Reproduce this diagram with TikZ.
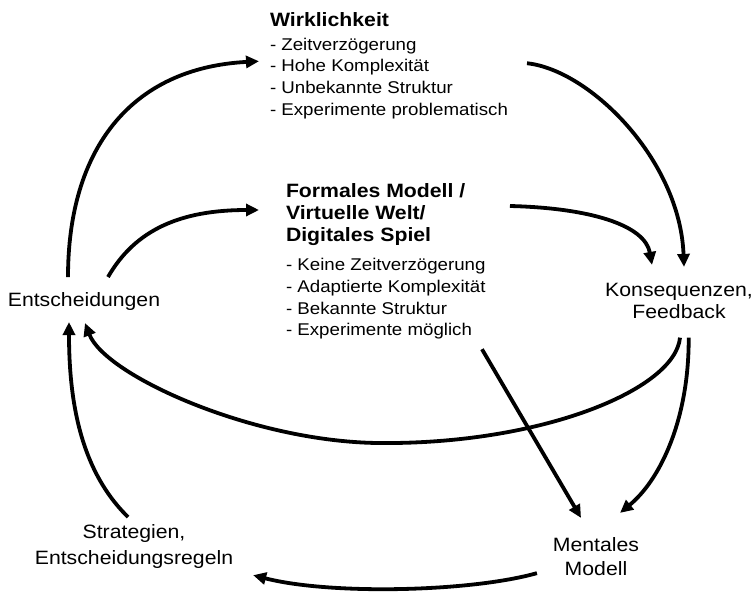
\documentclass[tikz,border=0pt]{standalone}
\usepackage{fontspec}
\setmainfont[FakeStretch=1.1]{Liberation Sans}
\usetikzlibrary{arrows.meta}
\newcommand\blkhead[1]{{\bfseries\fontsize{19.3}{21.7}\selectfont #1}}
\begin{document}
\begin{tikzpicture}[x=1pt,y=-1pt,
  lbl/.style={inner sep=0pt, outer sep=0pt, align=center,
    font=\fontsize{19.3}{22.3}\selectfont},
  blk/.style={inner sep=0pt, outer sep=0pt, align=left,
    font=\fontsize{17}{21.7}\selectfont},
  flow/.style={line width=3.8pt, -{Triangle[length=13pt,width=12pt]}}]
\useasboundingbox (0,0) rectangle (754,591);

% labels of the loop
\node[lbl, anchor=base] (ent) at (84,306) {Entscheidungen};
\node[lbl, anchor=north] (kons) at (679,282.9) {Konsequenzen,\\Feedback};
\node[lbl, anchor=north, font=\fontsize{19.3}{23.3}\selectfont] (ment) at (596,537.9) {Mentales\\Modell};
\node[lbl, anchor=north, font=\fontsize{19.3}{26}\selectfont] (strat) at (134,524.5) {Strategien,\\Entscheidungsregeln};

% the two worlds
\node[blk, anchor=north west] (wirk) at (270,12.9) {\blkhead{Wirklichkeit}\\[1.6pt]
  - Zeitverzögerung\\
  - Hohe Komplexität\\
  - Unbekannte Struktur\\
  - Experimente problematisch};
\node[blk, anchor=north west] (form) at (286,183.5) {\blkhead{Formales Modell /}\\[0.5pt]
  \blkhead{Virtuelle Welt/}\\[0.5pt]
  \blkhead{Digitales Spiel}\\[7.3pt]
  - Keine Zeitverzögerung\\
  - Adaptierte Komplexität\\
  - Bekannte Struktur\\
  - Experimente möglich};

% connectors
\draw[flow] ([shift={(-16,-15)}]ent.north) .. controls (68,150) and (130,68) .. ([shift={(-11,-4.6)}]wirk.west);
\draw[flow] ([shift={(24,-15)}]ent.north) .. controls (135,230) and (180,210) .. ([shift={(-27,26.5)}]form.north west);
\draw[flow] ([shift={(19,-2.6)}]wirk.east) .. controls (590,70) and (680,160) .. ([shift={(5,-16)}]kons.north);
\draw[flow] ([shift={(24.4,22.5)}]form.north east) .. controls (590,208) and (645,225) .. ([shift={(-27,-18)}]kons.north);
\draw[flow] ([shift={(1,19)}]kons.south) .. controls (675,390) and (540,445) .. (377,443)
  .. controls (250,441) and (105,375) .. ([shift={(1,13)}]ent.south);
\draw[flow] ([shift={(9.7,19)}]kons.south) .. controls (689,420) and (660,480) .. ([shift={(24,-25)}]ment.north);
\draw[flow] ([shift={(-3.6,9.7)}]form.south east) -- ([shift={(-15,-20)}]ment.north);
\draw[flow] ([shift={(-16,16.5)}]ment.west) .. controls (470,592) and (330,595) .. ([shift={(20,6.7)}]strat.south east);
\draw[flow] ([shift={(-6,-7.5)}]strat.north) .. controls (80,470) and (69,400) .. ([shift={(-15,12)}]ent.south);
\end{tikzpicture}
\end{document}
